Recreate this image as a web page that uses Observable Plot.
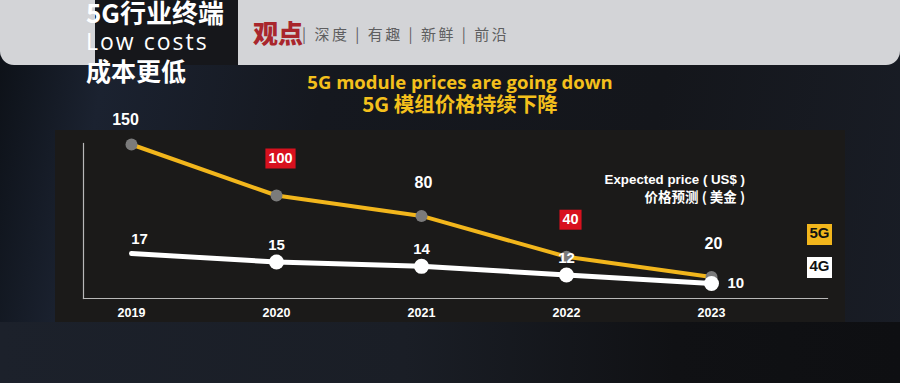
<!DOCTYPE html>
<html>
<head>
<meta charset="utf-8">
<script src="https://cdn.jsdelivr.net/npm/d3@7"></script>
<script src="https://cdn.jsdelivr.net/npm/@observablehq/plot@0.6"></script>
<style>
  html, body { margin:0; padding:0; background:#121419; }
  #wrap { position:relative; width:900px; height:383px; overflow:hidden;
    background: linear-gradient(100deg, #0c1016 0%, #1b2230 12%, #15181f 35%, #14161b 70%, #191d26 100%); }
  #bottom { position:absolute; left:0; top:322px; width:900px; height:61px;
    background: linear-gradient(90deg, #1c212b 0%, #1a1e26 45%, #101114 75%, #0e0f12 100%); }
  #band { position:absolute; left:0; top:0; width:900px; height:65px; background:#d3d4d7;
    border-radius:0 0 14px 14px; }
  #darkbox { position:absolute; left:95px; top:0; width:143px; height:65px; background:#16171b; }
  #panel { position:absolute; left:55px; top:130px; width:790px; height:192px; background:#1b1a19; }
  .hdr { position:absolute; color:#fff; white-space:nowrap; line-height:1; }
  .plotsvg { position:absolute; left:0; top:0; }
  .ttl { position:absolute; left:0; width:920px; text-align:center; color:#f4c01c; font-weight:bold; white-space:nowrap; line-height:1; }
  .note { position:absolute; right:155px; text-align:right; color:#fff; font-weight:bold; white-space:nowrap; line-height:1; }
  .leg { position:absolute; left:807px; width:25px; height:21px; line-height:21px; text-align:center;
    font:bold 15px "Liberation Sans", Arial, sans-serif; color:#111; }
</style>
</head>
<body>
<div id="wrap">
  <div id="bottom"></div>
  <div id="band"></div>
  <div id="darkbox"></div>
  <div class="hdr" style="left:86px; top:-7px; font:bold 26px 'Noto Sans CJK SC', sans-serif;">5G行业终端</div>
  <div class="hdr" style="left:86px; top:25px; font:23px 'Open Sans', sans-serif; letter-spacing:2px;">Low costs</div>
  <div class="hdr" style="left:86px; top:52px; font:bold 25px 'Noto Sans CJK SC', sans-serif;">成本更低</div>
  <div class="hdr" style="left:253px; top:14px; color:#a9262c; font:900 25px 'Noto Sans CJK SC', sans-serif;">观点</div>
  <div class="hdr" style="left:302px; top:23px; color:#5e5e60; font:15px 'Noto Sans CJK SC', sans-serif; letter-spacing:2.5px;">| 深度 | 有趣 | 新鲜 | 前沿</div>
  <div id="panel"></div>
  <div class="ttl" style="top:73px; font-family:'Open Sans', sans-serif; font-size:18.5px;">5G module prices are going down</div>
  <div class="ttl" style="top:93px; font-family:'Noto Sans CJK SC', sans-serif; font-size:20.5px;">5G 模组价格持续下降</div>
  <div class="note" style="top:172px; font:bold 13.3px 'Liberation Sans', Arial, sans-serif;">Expected price ( US$ )</div>
  <div class="note" style="top:186px; font:bold 13.5px 'Noto Sans CJK SC', sans-serif;">价格预测 ( 美金 )</div>
  <div class="leg" style="top:224px; background:#f2b61c;">5G</div>
  <div class="leg" style="top:257px; background:#ffffff;">4G</div>
</div>
<script>
const years = [2019, 2020, 2021, 2022, 2023];
const price5G = [150, 100, 80, 40, 20];
const price4G = [17, 15, 14, 12, 10];
const boxedYears = [2020, 2022];

const data5 = years.map((year, i) => ({year, value: price5G[i]}));
const data4 = years.map((year, i) => ({year, value: price4G[i]}));

const wrap = document.getElementById("wrap");
const FONT = "'Liberation Sans', Arial, sans-serif";
const BOXFONT = "bold 14.5px 'Liberation Sans', Arial, sans-serif";
const measureCtx = document.createElement("canvas").getContext("2d");
measureCtx.font = BOXFONT;
const halfWidth = d => measureCtx.measureText(String(d.value)).width / 2 + 3;

// rectangle symbol: half-width from the r channel, fixed height
const boxSymbol = {
  draw(ctx, size) {
    const r = Math.sqrt(size / Math.PI);
    ctx.moveTo(-r, -10); ctx.lineTo(r, -10); ctx.lineTo(r, 10); ctx.lineTo(-r, 10); ctx.closePath();
  }
};

const common = {
  width: 900, height: 383,
  marginTop: 143, marginBottom: 85, marginLeft: 83, marginRight: 73,
  style: {background: "transparent", overflow: "visible", fontFamily: FONT},
  x: {type: "linear", domain: [2019, 2023], range: [131, 711], axis: null}
};

const boxed = data5.filter(d => boxedYears.includes(d.year));

const plot5 = Plot.plot({
  ...common,
  y: {domain: [0, 150], range: [297, 144], axis: null},
  r: {type: "identity"},
  marks: [
    Plot.frame({anchor: "left", stroke: "#b8b8b8", strokeWidth: 1.2}),
    Plot.frame({anchor: "bottom", stroke: "#b8b8b8", strokeWidth: 1.2}),
    Plot.axisX(years, {tickSize: 0, tickPadding: 10, tickFormat: d => String(d), label: null,
      fill: "white", fontWeight: "bold", fontSize: 12.5, fontFamily: FONT}),
    Plot.line(data5, {x: "year", y: "value", stroke: "#f2b61c", strokeWidth: 4}),
    Plot.dot(data5, {x: "year", y: "value", r: 6, fill: "#7b7b7b"}),
    Plot.text(data5.filter(d => d.year === years[0]), {x: "year", y: "value", text: d => String(d.value),
      dy: -25, dx: -6, fill: "white", fontWeight: "bold", fontSize: 16}),
    Plot.text(data5.filter(d => d.year !== years[0] && !boxedYears.includes(d.year)), {x: "year", y: "value",
      text: d => String(d.value), dy: -33, dx: 2, fill: "white", fontWeight: "bold", fontSize: 16}),
    Plot.dot(boxed, {x: "year", y: "value", r: halfWidth, symbol: boxSymbol,
      dy: -37, dx: 4, fill: "#d8111e", stroke: "none"}),
    Plot.text(boxed, {x: "year", y: "value",
      text: d => String(d.value), dy: -37, dx: 4, fill: "white", fontWeight: "bold", fontSize: 14.5})
  ]
});

const plot4 = Plot.plot({
  ...common,
  y: {domain: [10, 17], range: [283, 253], axis: null},
  marks: [
    Plot.line(data4, {x: "year", y: "value", stroke: "white", strokeWidth: 5}),
    Plot.dot(data4.filter(d => d.year !== years[0]), {x: "year", y: "value", r: 7.5, fill: "white"}),
    Plot.text(data4.filter(d => d.year === years[0]), {x: "year", y: "value",
      text: d => String(d.value), dy: -14, dx: 8, fill: "white", fontWeight: "bold", fontSize: 15}),
    Plot.text(data4.filter(d => d.year !== years[0] && d.year !== years[years.length - 1]), {x: "year", y: "value",
      text: d => String(d.value), dy: -17, fill: "white", fontWeight: "bold", fontSize: 15}),
    Plot.text(data4.filter(d => d.year === years[years.length - 1]), {x: "year", y: "value",
      text: d => String(d.value), dx: 16, textAnchor: "start", fill: "white", fontWeight: "bold", fontSize: 15})
  ]
});

plot5.classList.add("plotsvg");
plot4.classList.add("plotsvg");
wrap.appendChild(plot5);
wrap.appendChild(plot4);
</script>
</body>
</html>
